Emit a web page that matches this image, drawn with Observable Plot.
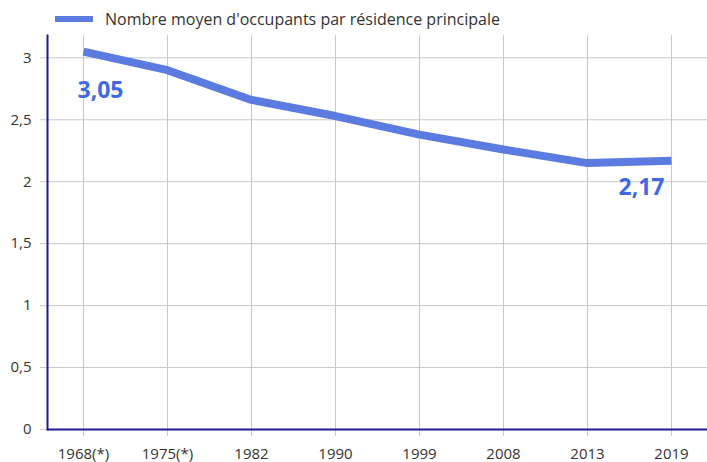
<!DOCTYPE html>
<html>
<head>
<meta charset="utf-8">
<script src="https://cdn.jsdelivr.net/npm/d3@7"></script>
<script src="https://cdn.jsdelivr.net/npm/@observablehq/plot@0.6"></script>
<style>
  body { margin: 0; background: #fff; font-family: "Open Sans", sans-serif; }
  #legend { height: 30px; display: flex; align-items: center; padding-left: 55px; padding-top: 8px; box-sizing: border-box; font-size: 16px; color: #333; }
  #legend .sw { display: inline-block; width: 38px; height: 6px; background: #5b7be0; margin-right: 12px; }
</style>
</head>
<body>
<div id="legend"><span class="sw"></span><span id="legend-text"></span></div>
<div id="chart"></div>
<script>
const seriesName = "Nombre moyen d'occupants par résidence principale";
const years = ["1968(*)", "1975(*)", "1982", "1990", "1999", "2008", "2013", "2019"];
const occupants = [3.05, 2.90, 2.66, 2.53, 2.38, 2.26, 2.15, 2.17];
const yTicks = [0, 0.5, 1, 1.5, 2, 2.5, 3];
const labelFirst = "3,05";
const labelLast = "2,17";

document.getElementById("legend-text").textContent = seriesName;

const data = years.map((y, i) => ({year: y, value: occupants[i]}));
const fmt = d => String(d).replace(".", ",");

const chart = Plot.plot({
  width: 707,
  height: 432,
  marginTop: 5,
  marginBottom: 33,
  marginLeft: 47,
  marginRight: 0,
  style: {fontFamily: "Open Sans, sans-serif", fontSize: "15px", color: "#333", background: "#fff"},
  x: {type: "point", domain: years, padding: 0.39},
  y: {domain: [0, 3.18]},
  marks: [
    Plot.gridY(yTicks, {stroke: "#c8c8c8", strokeOpacity: 1}),
    Plot.gridX(years, {stroke: "#c8c8c8", strokeOpacity: 1}),
    Plot.axisY(yTicks, {tickSize: 7, tickPadding: 9, stroke: "#c8c8c8", tickFormat: fmt, label: null}),
    Plot.axisX(years, {tickSize: 7, tickPadding: 12, stroke: "#c8c8c8", label: null}),
    Plot.ruleY([0], {stroke: "#1c1c8c", strokeWidth: 2}),
    Plot.frame({anchor: "left", stroke: "#1c1c8c", strokeWidth: 2}),
    Plot.line(data, {x: "year", y: "value", stroke: "#5b7be0", strokeWidth: 8, strokeLinejoin: "round", strokeLinecap: "butt"}),
    Plot.text([data[0]], {x: "year", y: "value", text: () => labelFirst, dx: 17, dy: 39, fill: "#4169e1", fontSize: 23, fontWeight: "bold"}),
    Plot.text([data[data.length - 1]], {x: "year", y: "value", text: () => labelLast, dx: -30, dy: 27, fill: "#4169e1", fontSize: 23, fontWeight: "bold"})
  ]
});
document.getElementById("chart").appendChild(chart);
</script>
</body>
</html>
